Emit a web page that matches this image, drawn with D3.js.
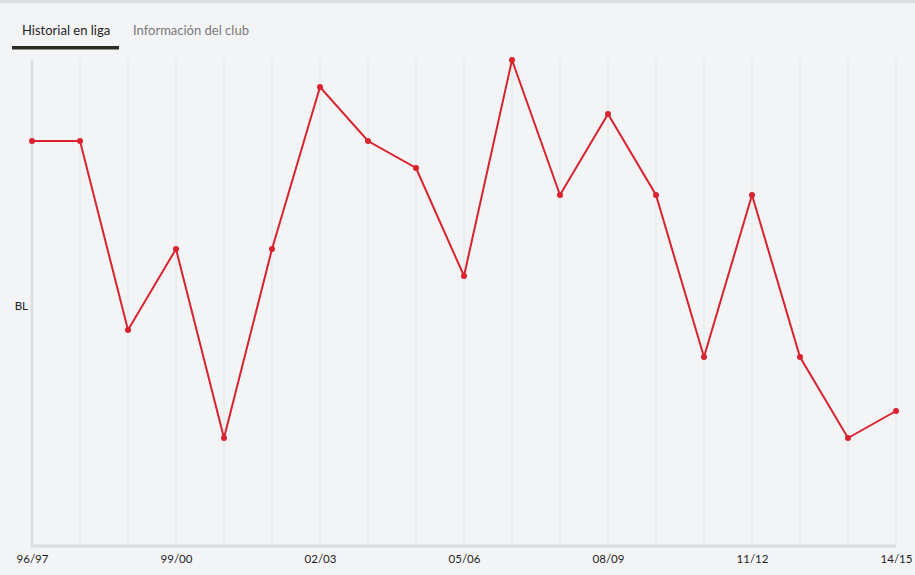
<!DOCTYPE html>
<html><head><meta charset="utf-8">
<script src="https://cdn.jsdelivr.net/npm/d3@7"></script>
<style>
html,body{margin:0;padding:0;background:#f3f4f6;}
svg{display:block;font-family:Lato,"Open Sans",sans-serif;}
</style></head>
<body>
<svg id="c" width="915" height="575"></svg>
<script>
const seasons = ["96/97","97/98","98/99","99/00","00/01","01/02","02/03","03/04","04/05","05/06","06/07","07/08","08/09","09/10","10/11","11/12","12/13","13/14","14/15"];
const positions = [4,4,11,8,15,8,2,4,5,9,1,6,3,6,12,6,12,15,14];
const xTickLabels = ["96/97","99/00","02/03","05/06","08/09","11/12","14/15"];
const yTickValues = [10];
const yTickLabels = ["BL"];
const tabs = ["Historial en liga","Información del club"];

const svg = d3.select("#c");
svg.append("rect").attr("width",915).attr("height",575).attr("fill","#f3f4f6");
svg.append("rect").attr("width",915).attr("height",3).attr("fill","#dcdde0");

// tabs
svg.append("text").attr("x",22).attr("y",35).attr("font-size",13).attr("fill","#1e1e1e").text(tabs[0]);
svg.append("text").attr("x",133).attr("y",35).attr("font-size",13).attr("fill","#7a7a7a").text(tabs[1]);
svg.append("rect").attr("x",12).attr("y",46).attr("width",107).attr("height",3.5).attr("fill","#2b2b22");

const x = d3.scalePoint().domain(seasons).range([32,896]);
const y = d3.scaleLinear().domain([1,19]).range([60,546]);

// grid
svg.append("g").selectAll("line").data(seasons.slice(1)).join("line")
  .attr("x1",d=>x(d)).attr("x2",d=>x(d)).attr("y1",60).attr("y2",545)
  .attr("stroke","#e3e4e6").attr("stroke-width",1);

// axes lines
svg.append("line").attr("x1",32).attr("x2",32).attr("y1",60).attr("y2",546).attr("stroke","#dcdde0").attr("stroke-width",3);
svg.append("line").attr("x1",31).attr("x2",896).attr("y1",546).attr("y2",546).attr("stroke","#dcdde0").attr("stroke-width",3);

// x axis labels
const xAxis = d3.axisBottom(x).tickValues(xTickLabels).tickSize(0).tickPadding(0);
const gx = svg.append("g").attr("transform","translate(0,553)").call(xAxis);
gx.select(".domain").remove();
gx.selectAll("text").attr("font-size",11.5).attr("fill","#1e1e1e").attr("font-family","Lato,'Open Sans',sans-serif").attr("dy","0.9em");

// y axis label
const yAxis = d3.axisLeft(y).tickValues(yTickValues).tickFormat((d,i)=>yTickLabels[i]).tickSize(0).tickPadding(4);
const gy = svg.append("g").attr("transform","translate(32,0)").call(yAxis);
gy.select(".domain").remove();
gy.selectAll("text").attr("font-size",11.5).attr("fill","#1e1e1e").attr("font-family","Lato,'Open Sans',sans-serif").attr("dy","0.6em").attr("x",-4);

// line
const line = d3.line().x((d,i)=>x(seasons[i])).y(d=>y(d));
svg.append("path").datum(positions).attr("d",line).attr("fill","none").attr("stroke","#d9232e").attr("stroke-width",2);
svg.append("g").selectAll("circle").data(positions).join("circle")
  .attr("cx",(d,i)=>x(seasons[i])).attr("cy",d=>y(d)).attr("r",3).attr("fill","#d9232e");
</script>
</body></html>
